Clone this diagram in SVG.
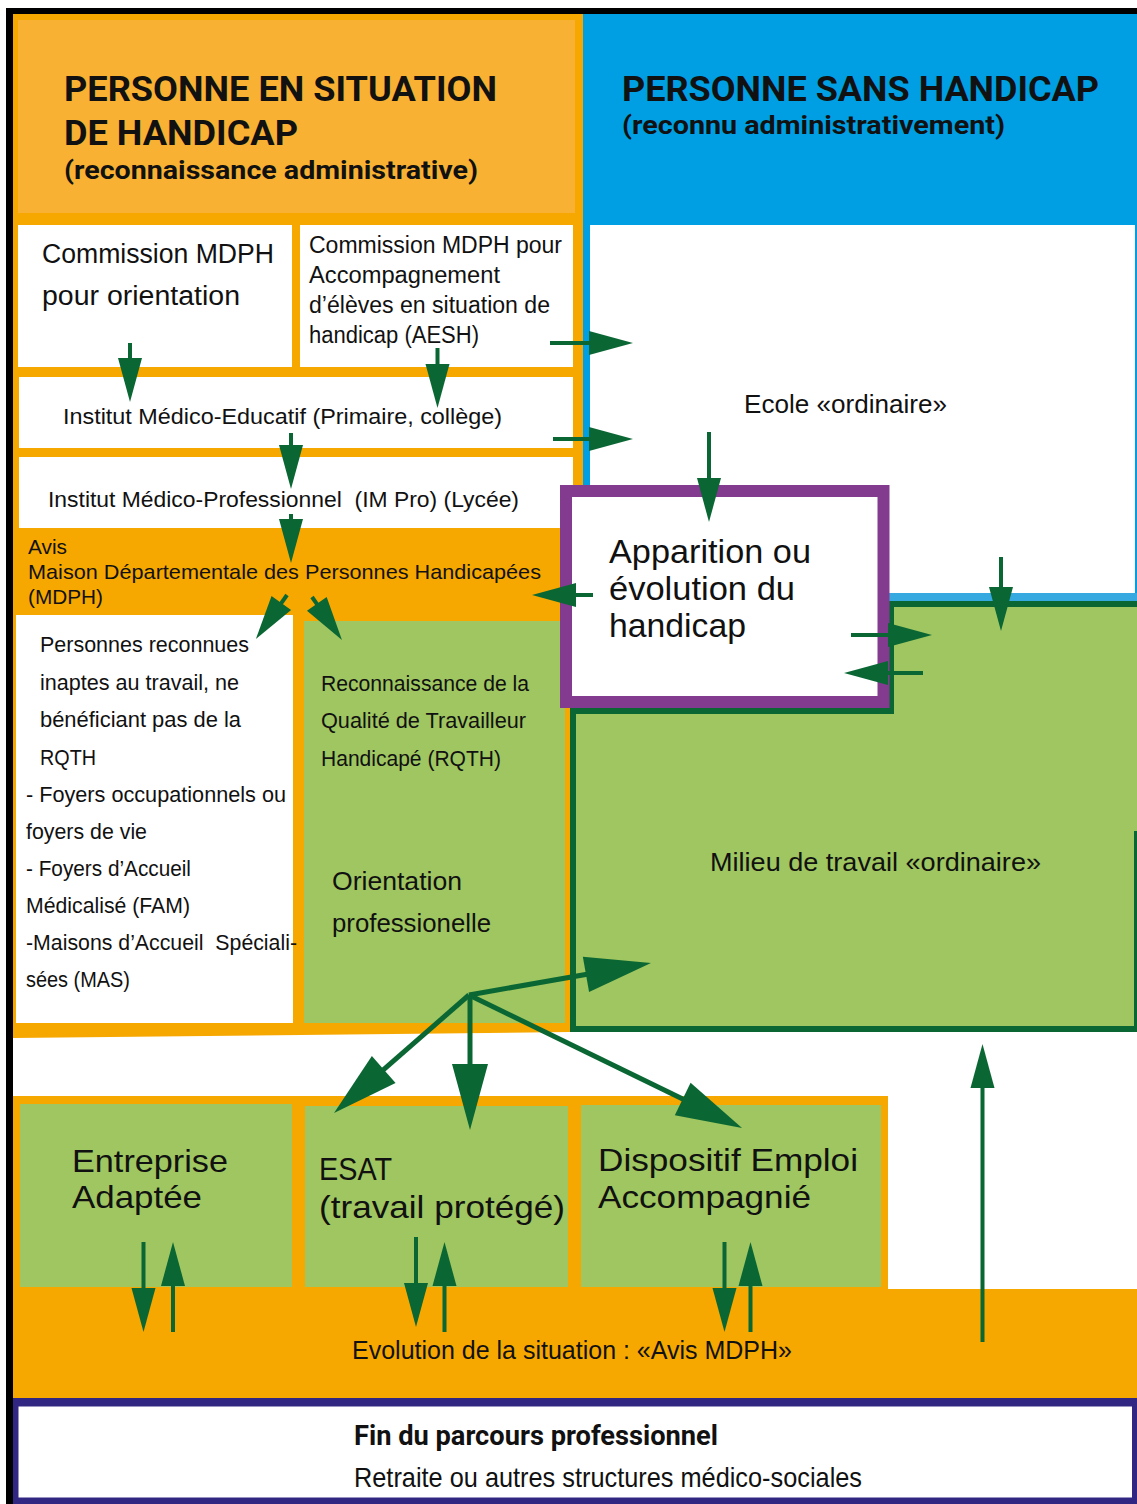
<svg xmlns="http://www.w3.org/2000/svg" width="1137" height="1504" viewBox="0 0 1137 1504">
<defs>
<style>
.hd{font-family:Roboto,"Liberation Sans",Arial,sans-serif;font-weight:700;fill:#111}
.tx{font-family:"Liberation Sans",Arial,sans-serif;fill:#111}
.or{fill:#F6A800}
.orl{fill:#F8B133}
.wh{fill:#FFFFFF}
.gr{fill:#9FC660}
.cn{stroke:#0A6734;stroke-width:4;fill:none}
.cnb{stroke:#0A6734;stroke-width:5;fill:none;marker-end:url(#hb)}
.cs{marker-end:url(#hs)}
</style>
<marker id="hs" markerUnits="userSpaceOnUse" markerWidth="44" markerHeight="24" refX="4" refY="12" orient="auto" overflow="visible">
<path d="M0,0 L44,12 L0,24 Z" fill="#0A6734"/>
</marker>
<marker id="hb" markerUnits="userSpaceOnUse" markerWidth="66" markerHeight="36" refX="4" refY="18" orient="auto" overflow="visible">
<path d="M0,0 L66,18 L0,36 Z" fill="#0A6734"/>
</marker>
</defs>
<rect x="0" y="0" width="1137" height="1504" fill="#FFFFFF"/>

<g id="frame">
<rect x="6" y="8" width="1131" height="6" fill="#000"/>
<rect x="6" y="8" width="7" height="1496" fill="#000"/>
</g>

<g id="panel-handicap">
<rect class="or" x="13" y="14" width="570" height="1010"/>
<polygon class="or" points="13,1020 570,1020 570,1032 13,1038"/>
<rect class="orl" x="18" y="20" width="557" height="193"/>
<text class="hd" x="64" y="101" font-size="35" textLength="433" lengthAdjust="spacingAndGlyphs">PERSONNE EN SITUATION</text>
<text class="hd" x="64" y="145" font-size="35" textLength="234" lengthAdjust="spacingAndGlyphs">DE HANDICAP</text>
<text class="hd" x="64" y="179" font-size="26" textLength="414" lengthAdjust="spacingAndGlyphs">(reconnaissance administrative)</text>
</g>

<g id="panel-sans-handicap">
<rect x="583" y="14" width="554" height="587" fill="#009FE3"/>
<text class="hd" x="622" y="101" font-size="35" textLength="477" lengthAdjust="spacingAndGlyphs">PERSONNE SANS HANDICAP</text>
<text class="hd" x="622" y="134" font-size="26" textLength="383" lengthAdjust="spacingAndGlyphs">(reconnu administrativement)</text>
</g>

<g id="ecole">
<rect class="wh" x="590" y="225" width="545" height="368"/>
<rect x="590" y="593" width="547" height="8" fill="#36A9E1"/>
<text class="tx" x="744" y="413" font-size="26" textLength="203" lengthAdjust="spacingAndGlyphs">Ecole «ordinaire»</text>
</g>

<g id="commission-orientation">
<rect class="wh" x="18" y="225" width="274" height="142"/>
<text class="tx" x="42" y="263" font-size="27" textLength="232" lengthAdjust="spacingAndGlyphs">Commission MDPH</text>
<text class="tx" x="42" y="305" font-size="27" textLength="198" lengthAdjust="spacingAndGlyphs">pour orientation</text>
</g>

<g id="commission-aesh">
<rect class="wh" x="300" y="225" width="273" height="142"/>
<text class="tx" x="309" y="253" font-size="23" textLength="253" lengthAdjust="spacingAndGlyphs">Commission MDPH pour</text>
<text class="tx" x="309" y="283" font-size="23" textLength="191" lengthAdjust="spacingAndGlyphs">Accompagnement</text>
<text class="tx" x="309" y="313" font-size="23" textLength="241" lengthAdjust="spacingAndGlyphs">d’élèves en situation de</text>
<text class="tx" x="309" y="343" font-size="23" textLength="170" lengthAdjust="spacingAndGlyphs">handicap (AESH)</text>
</g>

<g id="ime">
<rect class="wh" x="19" y="377" width="554" height="71"/>
<text class="tx" x="63" y="424" font-size="22" textLength="439" lengthAdjust="spacingAndGlyphs">Institut Médico-Educatif (Primaire, collège)</text>
</g>

<g id="impro">
<rect class="wh" x="19" y="457" width="554" height="71"/>
<text class="tx" x="48" y="507" font-size="22" textLength="471" lengthAdjust="spacingAndGlyphs" xml:space="preserve">Institut Médico-Professionnel  (IM Pro) (Lycée)</text>
</g>

<g id="avis-mdph">
<text class="tx" x="28" y="554" font-size="21" textLength="39" lengthAdjust="spacingAndGlyphs">Avis</text>
<text class="tx" x="28" y="579" font-size="21" textLength="513" lengthAdjust="spacingAndGlyphs">Maison Départementale des Personnes Handicapées</text>
<text class="tx" x="28" y="604" font-size="21" textLength="75" lengthAdjust="spacingAndGlyphs">(MDPH)</text>
</g>

<g id="inaptes">
<rect class="wh" x="16" y="615" width="277" height="408"/>
<text class="tx" x="40" y="652" font-size="22" textLength="209" lengthAdjust="spacingAndGlyphs">Personnes reconnues</text>
<text class="tx" x="40" y="690" font-size="22" textLength="199" lengthAdjust="spacingAndGlyphs">inaptes au travail, ne</text>
<text class="tx" x="40" y="727" font-size="22" textLength="201" lengthAdjust="spacingAndGlyphs">bénéficiant pas de la</text>
<text class="tx" x="40" y="765" font-size="22" textLength="56" lengthAdjust="spacingAndGlyphs">RQTH</text>
<text class="tx" x="26" y="802" font-size="22" textLength="260" lengthAdjust="spacingAndGlyphs">- Foyers occupationnels ou</text>
<text class="tx" x="26" y="839" font-size="22" textLength="121" lengthAdjust="spacingAndGlyphs">foyers de vie</text>
<text class="tx" x="26" y="876" font-size="22" textLength="165" lengthAdjust="spacingAndGlyphs">- Foyers d’Accueil</text>
<text class="tx" x="26" y="913" font-size="22" textLength="164" lengthAdjust="spacingAndGlyphs">Médicalisé (FAM)</text>
<text class="tx" x="26" y="950" font-size="22" textLength="271" lengthAdjust="spacingAndGlyphs" xml:space="preserve">-Maisons d’Accueil  Spéciali-</text>
<text class="tx" x="26" y="987" font-size="22" textLength="104" lengthAdjust="spacingAndGlyphs">sées (MAS)</text>
</g>

<g id="rqth">
<rect class="gr" x="304" y="621" width="261" height="402"/>
<text class="tx" x="321" y="691" font-size="22" textLength="208" lengthAdjust="spacingAndGlyphs">Reconnaissance de la</text>
<text class="tx" x="321" y="728" font-size="22" textLength="205" lengthAdjust="spacingAndGlyphs">Qualité de Travailleur</text>
<text class="tx" x="321" y="766" font-size="22" textLength="180" lengthAdjust="spacingAndGlyphs">Handicapé (RQTH)</text>
<text class="tx" x="332" y="890" font-size="26" textLength="130" lengthAdjust="spacingAndGlyphs">Orientation</text>
<text class="tx" x="332" y="932" font-size="26" textLength="159" lengthAdjust="spacingAndGlyphs">professionelle</text>
</g>

<g id="milieu">
<path d="M891,604 H1140 V1029 H573 V711 H891 Z" fill="#9FC660" stroke="#0A6734" stroke-width="6"/>
<line x1="1135.5" y1="831" x2="1135.5" y2="1032" stroke="#0A6734" stroke-width="3"/>
<text class="tx" x="710" y="871" font-size="26" textLength="331" lengthAdjust="spacingAndGlyphs">Milieu de travail «ordinaire»</text>
</g>

<g id="apparition">
<rect x="566" y="491" width="317.5" height="211" fill="#FFFFFF" stroke="#823B8E" stroke-width="12"/>
<text class="tx" x="609" y="563" font-size="34" textLength="202" lengthAdjust="spacingAndGlyphs">Apparition ou</text>
<text class="tx" x="609" y="600" font-size="34" textLength="186" lengthAdjust="spacingAndGlyphs">évolution du</text>
<text class="tx" x="609" y="637" font-size="34" textLength="137" lengthAdjust="spacingAndGlyphs">handicap</text>
</g>

<g id="evolution">
<polygon class="or" points="13,1096 888,1096 888,1289 1137,1289 1137,1398 13,1398"/>
<text class="tx" x="352" y="1359" font-size="26" textLength="440" lengthAdjust="spacingAndGlyphs">Evolution de la situation : «Avis MDPH»</text>
</g>

<g id="entreprise-adaptee">
<rect class="gr" x="20" y="1104" width="272" height="183"/>
<text class="tx" x="72" y="1172" font-size="32" textLength="156" lengthAdjust="spacingAndGlyphs">Entreprise</text>
<text class="tx" x="72" y="1208" font-size="32" textLength="130" lengthAdjust="spacingAndGlyphs">Adaptée</text>
</g>

<g id="esat">
<rect class="gr" x="305" y="1106" width="263" height="181"/>
<text class="tx" x="319" y="1180" font-size="32" textLength="73" lengthAdjust="spacingAndGlyphs">ESAT</text>
<text class="tx" x="319" y="1218" font-size="32" textLength="246" lengthAdjust="spacingAndGlyphs">(travail protégé)</text>
</g>

<g id="dispositif">
<rect class="gr" x="581" y="1105" width="300" height="182"/>
<text class="tx" x="598" y="1171" font-size="32" textLength="260" lengthAdjust="spacingAndGlyphs">Dispositif Emploi</text>
<text class="tx" x="598" y="1208" font-size="32" textLength="213" lengthAdjust="spacingAndGlyphs">Accompagnié</text>
</g>

<g id="fin-parcours">
<rect x="13" y="1398" width="1124" height="106" fill="#312783"/>
<rect class="wh" x="18.5" y="1406.5" width="1113.5" height="91"/>
<text class="hd" x="354" y="1445" font-size="28" textLength="364" lengthAdjust="spacingAndGlyphs">Fin du parcours professionnel</text>
<text class="tx" x="354" y="1487" font-size="28" textLength="508" lengthAdjust="spacingAndGlyphs">Retraite ou autres structures médico-sociales</text>
</g>

<g id="connectors">
<line class="cn cs" x1="130" y1="343" x2="130" y2="362"/>
<line class="cn cs" x1="437.5" y1="348" x2="437.5" y2="368"/>
<line class="cn cs" x1="291" y1="433" x2="291" y2="449"/>
<line class="cn cs" x1="291" y1="514" x2="291" y2="523"/>
<line class="cn cs" x1="287" y1="595" x2="279" y2="606.3"/>
<line class="cn cs" x1="312" y1="597" x2="319.1" y2="607.2"/>
<line class="cn cs" x1="550" y1="343" x2="593" y2="343"/>
<line class="cn cs" x1="553" y1="439" x2="593" y2="439"/>
<line class="cn cs" x1="709" y1="432" x2="709" y2="482"/>
<line class="cn cs" x1="593" y1="595" x2="572" y2="595"/>
<line class="cn cs" x1="851" y1="635" x2="892" y2="635"/>
<line class="cn cs" x1="923" y1="673" x2="884" y2="673"/>
<line class="cn cs" x1="1001" y1="557" x2="1001" y2="591"/>
<line class="cn cs" x1="143.5" y1="1242" x2="143.5" y2="1292"/>
<line class="cn cs" x1="173" y1="1332" x2="173" y2="1282"/>
<line class="cn cs" x1="416" y1="1237" x2="416" y2="1287"/>
<line class="cn cs" x1="444.5" y1="1332" x2="444.5" y2="1282"/>
<line class="cn cs" x1="724.5" y1="1242" x2="724.5" y2="1292"/>
<line class="cn cs" x1="750.5" y1="1332" x2="750.5" y2="1282"/>
<line class="cn cs" x1="982.5" y1="1342" x2="982.5" y2="1084"/>
<line class="cnb" x1="469" y1="995" x2="589.9" y2="973.7"/>
<line class="cnb" x1="469" y1="995" x2="380.7" y2="1072.2"/>
<line class="cnb" x1="470" y1="995" x2="470" y2="1068"/>
<line class="cnb" x1="469" y1="995" x2="686.3" y2="1100.8"/>
</g>
</svg>
